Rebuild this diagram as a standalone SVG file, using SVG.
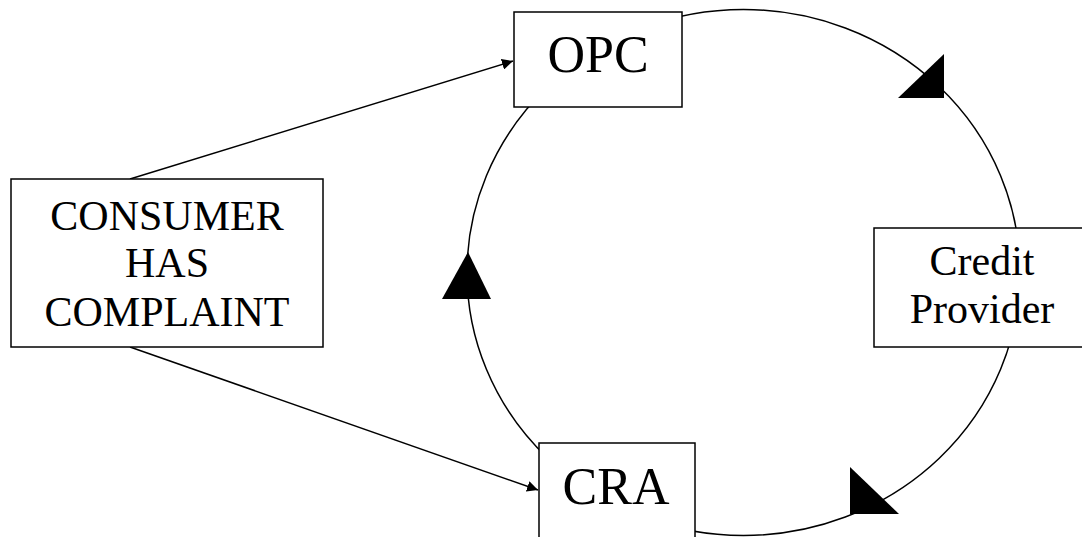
<svg xmlns="http://www.w3.org/2000/svg" width="1082" height="537" viewBox="0 0 1082 537">
<defs>
<style>
.box{fill:#fff;stroke:#000;stroke-width:1.5}
.ln{fill:none;stroke:#000;stroke-width:1.5}
.t{font-family:"Liberation Serif","Times New Roman",serif;fill:#000;text-anchor:middle}
.head{fill:#000;stroke:none}
</style>
<marker id="arr" viewBox="0 0 10 10" refX="10" refY="5" markerWidth="11" markerHeight="11" markerUnits="userSpaceOnUse" orient="auto">
<path d="M0,0 L10,5 L0,10 z" fill="#000"/>
</marker>
</defs>
<rect width="1082" height="537" fill="#fff"/>
<g id="connectors">
<ellipse class="ln" cx="743.5" cy="272.5" rx="276.5" ry="263"/>
<polygon class="head" points="468,252 442,299 491,299"/>
<polygon class="head" points="944,54 944,98 898,98"/>
<polygon class="head" points="850,467 850,514 899,514"/>
<line class="ln" x1="130" y1="179" x2="513" y2="61" marker-end="url(#arr)"/>
<line class="ln" x1="130" y1="347" x2="538" y2="490" marker-end="url(#arr)"/>
</g>
<g id="opc">
<rect class="box" x="514" y="12" width="168" height="95"/>
<text class="t" x="598" y="72" font-size="52">OPC</text>
</g>
<g id="consumer">
<rect class="box" x="11" y="179" width="312" height="168"/>
<text class="t" x="167" y="230" font-size="42">CONSUMER</text>
<text class="t" x="167" y="277" font-size="42">HAS</text>
<text class="t" x="167" y="326" font-size="42">COMPLAINT</text>
</g>
<g id="cra">
<rect class="box" x="539" y="443" width="156" height="110"/>
<text class="t" x="616" y="504" font-size="52">CRA</text>
</g>
<g id="credit">
<rect class="box" x="874" y="228" width="217" height="119"/>
<text class="t" x="982" y="275" font-size="42">Credit</text>
<text class="t" x="982" y="323" font-size="42">Provider</text>
</g>
</svg>
